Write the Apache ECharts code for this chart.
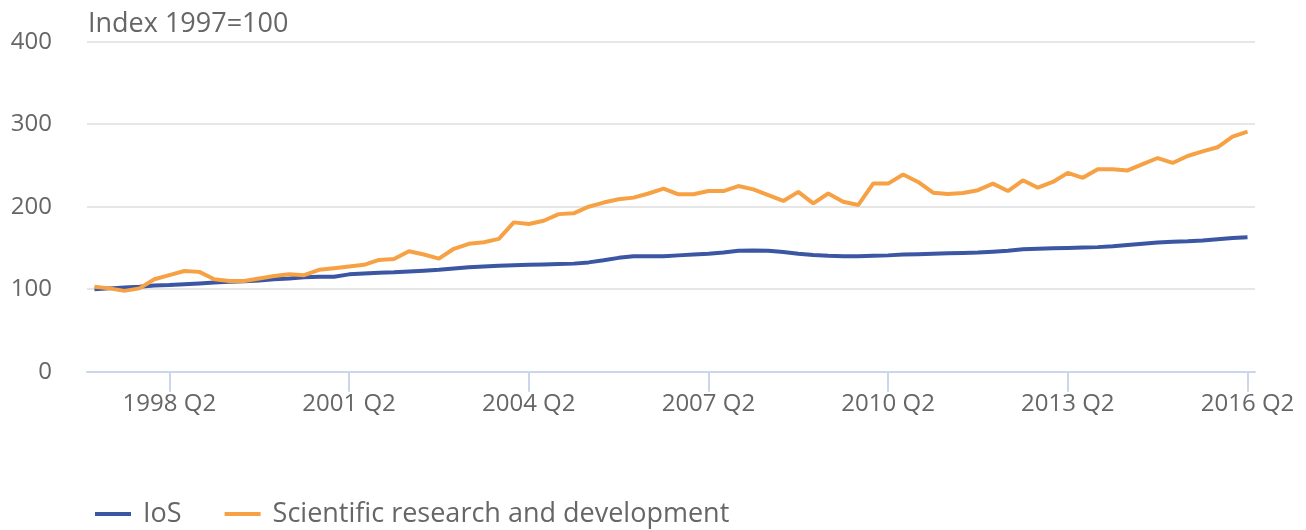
<!DOCTYPE html>
<html>
<head>
<meta charset="utf-8">
<script src="https://cdn.jsdelivr.net/npm/echarts@6/dist/echarts.min.js"></script>
<style>
html,body{margin:0;padding:0;background:#fff;}
#chart{width:1306px;height:530px;}
</style>
</head>
<body>
<div id="chart"></div>
<script>
const categories = [
"1997 Q1","1997 Q2","1997 Q3","1997 Q4","1998 Q1","1998 Q2","1998 Q3","1998 Q4",
"1999 Q1","1999 Q2","1999 Q3","1999 Q4","2000 Q1","2000 Q2","2000 Q3","2000 Q4",
"2001 Q1","2001 Q2","2001 Q3","2001 Q4","2002 Q1","2002 Q2","2002 Q3","2002 Q4",
"2003 Q1","2003 Q2","2003 Q3","2003 Q4","2004 Q1","2004 Q2","2004 Q3","2004 Q4",
"2005 Q1","2005 Q2","2005 Q3","2005 Q4","2006 Q1","2006 Q2","2006 Q3","2006 Q4",
"2007 Q1","2007 Q2","2007 Q3","2007 Q4","2008 Q1","2008 Q2","2008 Q3","2008 Q4",
"2009 Q1","2009 Q2","2009 Q3","2009 Q4","2010 Q1","2010 Q2","2010 Q3","2010 Q4",
"2011 Q1","2011 Q2","2011 Q3","2011 Q4","2012 Q1","2012 Q2","2012 Q3","2012 Q4",
"2013 Q1","2013 Q2","2013 Q3","2013 Q4","2014 Q1","2014 Q2","2014 Q3","2014 Q4",
"2015 Q1","2015 Q2","2015 Q3","2015 Q4","2016 Q1","2016 Q2"
];
const iosValues = [
100,101,102,103,104.5,105,106,107,108,109,109.5,110.5,112,113,114.5,115,
115,118,119,120,120.5,121.5,122.5,123.5,125,126.5,127.5,128.5,129,129.5,130,130.5,
131,132.5,135,138,140,140,140,141,142,143,144.5,146.5,147,146.5,145,143,
141.5,140.5,140,140,140.5,141,142,142.5,143,143.5,144,144.5,145.5,146.5,148.5,149,
149.5,150,150.5,151,152,153.5,155,156.5,157.5,158,159,160.5,162,163
];
const scienceValues = [
103,101,98,101,112,117,122,121,112,110,110,113,116,118,117,123.5,
125.5,127.5,129.5,135.5,136.5,146,142,137,149,155,157,161,181,179,183,191,
192,200,205,209,211,216,222,215,215,219,219,225,221,214,207,218,
204,216,206,202,228,228,239,230,217,215.5,216.5,220,228,219,232,223,
230,241,235,245.5,245.5,244,251.5,259,253,261.5,267,272,285,291
];
const seriesNames = ["IoS", "Scientific research and development"];
const axisTitle = "Index 1997=100";

const font = "'Open Sans', sans-serif";
const textColor = "#666666";
const showTick = (i) => (i - 5) % 12 === 0;

const chart = echarts.init(document.getElementById('chart'), null, {renderer: 'canvas'});
chart.setOption({
  animation: false,
  backgroundColor: '#ffffff',
  textStyle: {fontFamily: font},
  graphic: [{
    type: 'text', left: 88, top: 11,
    style: {text: axisTitle, font: "27px 'Open Sans'", fill: textColor}
  }],
  grid: {left: 87, right: 51, top: 41.7, bottom: 158.3, containLabel: false},
  legend: {
    left: 90, top: 495.5,
    itemWidth: 36, itemHeight: 4, itemGap: 43,
    icon: 'rect',
    textStyle: {fontFamily: font, fontSize: 27, color: textColor, padding: [0, 0, 0, 7]},
    data: seriesNames
  },
  xAxis: {
    type: 'category',
    data: categories,
    boundaryGap: true,
    axisLine: {lineStyle: {color: '#ccd6eb', width: 2}},
    axisTick: {show: true, interval: showTick, alignWithLabel: true, length: 20, lineStyle: {color: '#ccd6eb', width: 2}},
    axisLabel: {interval: showTick, fontFamily: font, fontSize: 24, color: textColor, margin: 20, hideOverlap: false},
    splitLine: {show: false}
  },
  yAxis: {
    type: 'value',
    min: 0, max: 400, interval: 100,
    axisLine: {show: false},
    axisTick: {show: false},
    axisLabel: {fontFamily: font, fontSize: 24, color: textColor, margin: 35},
    splitLine: {lineStyle: {color: '#e6e6e6', width: 2}}
  },
  series: [
    {
      name: seriesNames[0], type: 'line', data: iosValues,
      showSymbol: false, symbol: 'none',
      lineStyle: {color: '#3b56a2', width: 4},
      itemStyle: {color: '#3b56a2'}
    },
    {
      name: seriesNames[1], type: 'line', data: scienceValues,
      showSymbol: false, symbol: 'none',
      lineStyle: {color: '#f7a145', width: 4},
      itemStyle: {color: '#f7a145'}
    }
  ]
});
</script>
</body>
</html>
